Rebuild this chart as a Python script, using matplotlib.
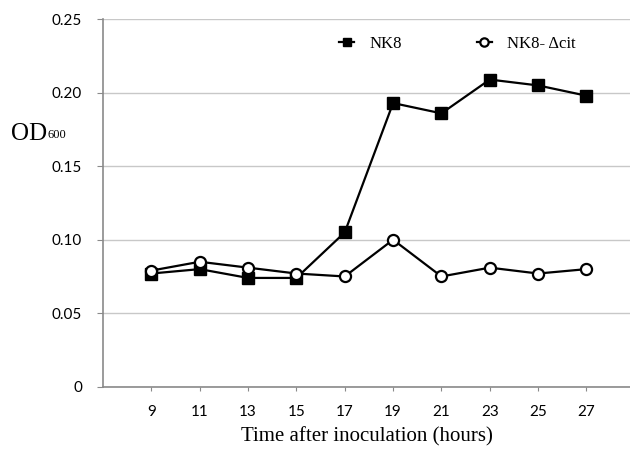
import numpy as np
import matplotlib
matplotlib.use('Agg')
import matplotlib.pyplot as plt
import matplotlib.transforms as mtransforms

# data
hours = ['9', '11', '13', '15', '17', '19', '21', '23', '25', '27']
nk8 = [0.077, 0.080, 0.074, 0.074, 0.105, 0.193, 0.186, 0.209, 0.205, 0.198]
nk8_dcit = [0.079, 0.085, 0.081, 0.077, 0.075, 0.100, 0.075, 0.081, 0.077, 0.080]
yticks = [0, 0.05, 0.10, 0.15, 0.20, 0.25]
ytick_labels = ['0', '0.05', '0.10', '0.15', '0.20', '0.25']

serif = 'Liberation Serif'
sans = 'Lato'

fig = plt.figure(figsize=(6.3, 4.49), dpi=100)
ax = fig.add_axes([0.1635, 0.1388, 0.8365, 0.8182])

x = np.arange(len(hours))
ax.plot(x, nk8, color='black', lw=1.6, marker='s', ms=8.5,
        mfc='black', mec='black', label='NK8', zorder=3)
ax.plot(x, nk8_dcit, color='black', lw=1.6, marker='o', ms=8,
        mfc='white', mec='black', mew=1.6, label='NK8- \u0394cit', zorder=4)

ax.set_xlim(-1, 9.9)
ax.set_ylim(0, 0.25)
ax.set_yticks(yticks)
ax.set_yticklabels(ytick_labels, fontfamily=sans, fontsize=11)
ax.set_xticks(x)
ax.set_xticklabels(hours, fontfamily=sans, fontsize=11)
shift = mtransforms.ScaledTranslation(-5 / 100, 0, fig.dpi_scale_trans)
for lbl in ax.get_xticklabels():
    lbl.set_transform(lbl.get_transform() + shift)

ax.grid(axis='y', color='#c8c8c8', lw=1.0)
ax.set_axisbelow(True)
for s in ['top', 'right']:
    ax.spines[s].set_visible(False)
for s in ['left', 'bottom']:
    ax.spines[s].set_color('#8a8a8a')
    ax.spines[s].set_linewidth(1.2)
ax.tick_params(axis='y', length=4, color='#8a8a8a', pad=11)
ax.tick_params(axis='x', length=3, color='#8a8a8a', pad=10)

ax.set_xlabel('Time after inoculation (hours)', fontfamily=serif,
              fontsize=15, labelpad=6)

# y label: OD with small 600 right after it
od = fig.text(11 / 630, 1 - 140 / 449, 'OD', fontfamily=serif, fontsize=18,
              ha='left', va='baseline')
ax.annotate('600', xy=(1, 0), xycoords=od, xytext=(0.5, 3.2),
            textcoords='offset points', fontfamily=serif, fontsize=9,
            ha='left', va='bottom')

leg = ax.legend(loc='upper left', bbox_to_anchor=(0.42, 0.995), ncol=2,
                frameon=False, handlelength=0.9, columnspacing=4.5,
                handletextpad=0.9, prop={'family': serif, 'size': 12})
for h in leg.legend_handles:
    h.set_markersize(6)

fig.savefig('out.png', dpi=100)
